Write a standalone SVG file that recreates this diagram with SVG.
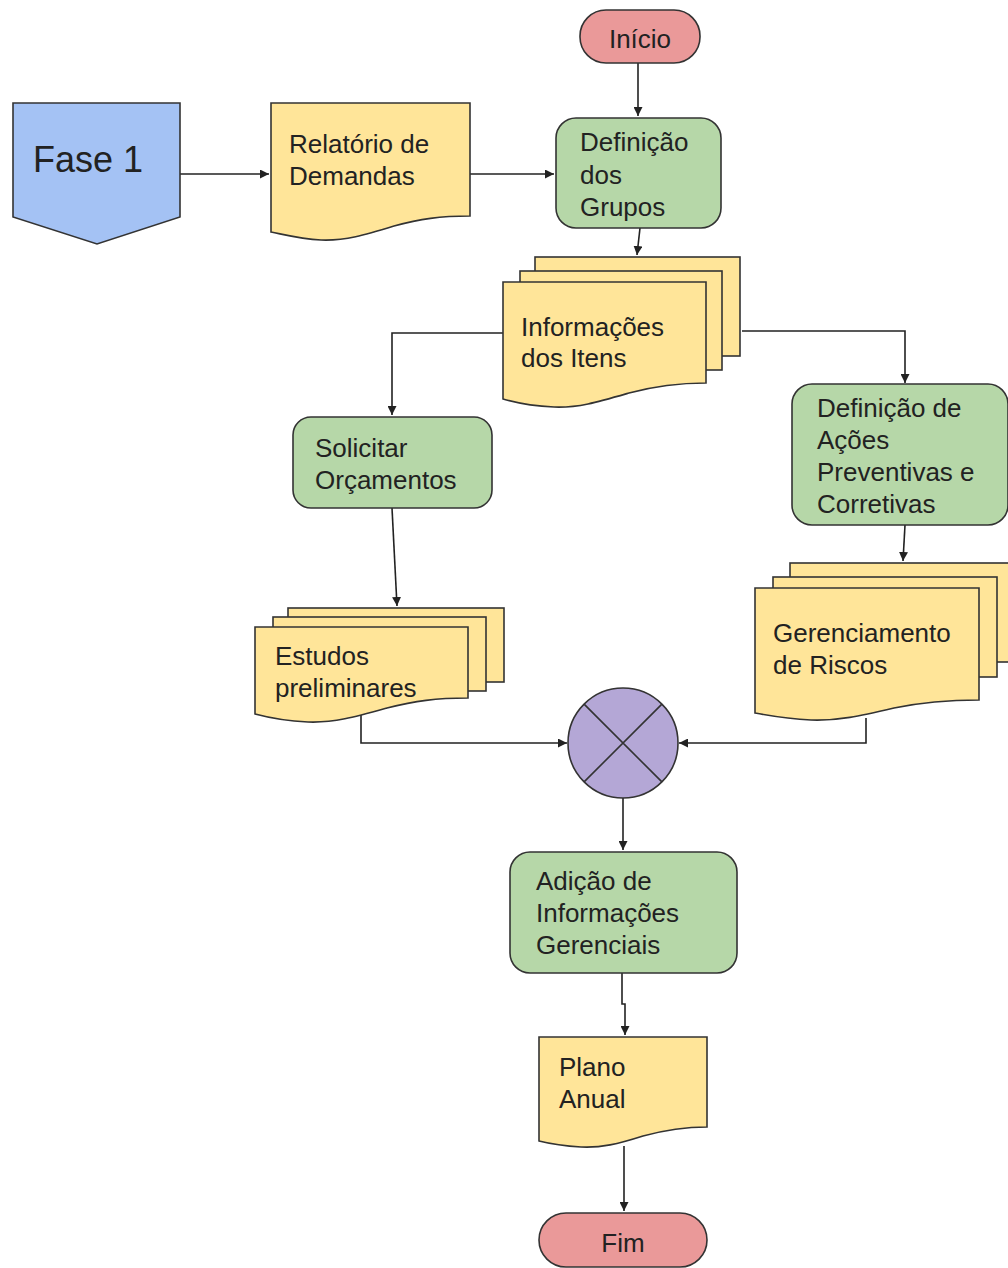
<svg xmlns="http://www.w3.org/2000/svg" width="1008" height="1268" viewBox="0 0 1008 1268">
  <defs>
    <marker id="arrow" viewBox="0 0 10 10" refX="10" refY="5" markerUnits="userSpaceOnUse" markerWidth="9" markerHeight="9" orient="auto">
      <path d="M0,0 L10,5 L0,10 Z" fill="#222"/>
    </marker>
    <style>
      .doc { fill: #ffe599; stroke: #333; stroke-width: 1.6; }
      .proc { fill: #b6d7a8; stroke: #333; stroke-width: 1.6; }
      .term { fill: #ea9999; stroke: #333; stroke-width: 1.6; }
      .page { fill: #a4c2f4; stroke: #333; stroke-width: 1.6; }
      .sum { fill: #b4a7d6; stroke: #333; stroke-width: 1.6; }
      .edge { fill: none; stroke: #222; stroke-width: 1.6; marker-end: url(#arrow); }
      text { font-family: "Liberation Sans", Arial, sans-serif; font-size: 26px; fill: #222; }
      .mid { text-anchor: middle; }
    </style>
  </defs>
  <rect width="1008" height="1268" fill="#ffffff"/>

  <g id="connectors">
    <path class="edge" d="M180,174 H269"/>
    <path class="edge" d="M470,174 H554"/>
    <path class="edge" d="M638,63 V116"/>
    <path class="edge" d="M640,228 L637,255"/>
    <path class="edge" d="M503,333 H392 V415"/>
    <path class="edge" d="M742,331 H905 V383"/>
    <path class="edge" d="M392,508 L397,606"/>
    <path class="edge" d="M905,525 L903,561"/>
    <path class="edge" d="M361,714 V743 H567"/>
    <path class="edge" d="M866,718 V743 H679"/>
    <path class="edge" d="M623,798 V850"/>
    <path class="edge" d="M622,973 V1004 H625 V1035"/>
    <path class="edge" d="M624,1146 V1211"/>
  </g>

  <g id="inicio">
    <rect class="term" x="580" y="10" width="120" height="53" rx="26"/>
    <text class="mid" x="640" y="48">Início</text>
  </g>

  <g id="fase1">
    <path class="page" d="M13,103 H180 V217 L97,244 L13,217 Z"/>
    <text x="33" y="172" style="font-size:36px">Fase 1</text>
  </g>

  <g id="relatorio">
    <path class="doc" d="M271,103 H470 V216 C440,216 420,219 394,226 C365,235 345,241 321,240 C301,239 286,235 271,232 Z"/>
    <text x="289" y="153">Relatório de</text>
    <text x="289" y="185">Demandas</text>
  </g>

  <g id="definicao-grupos">
    <rect class="proc" x="556" y="118" width="165" height="110" rx="20"/>
    <text x="580" y="151">Definição</text>
    <text x="580" y="184">dos</text>
    <text x="580" y="216">Grupos</text>
  </g>

  <g id="informacoes-itens">
    <rect class="doc" x="535" y="257" width="205" height="99"/>
    <rect class="doc" x="520" y="271" width="202" height="99"/>
    <path class="doc" d="M503,282 H706 V383 C676,383 655,386 629,393 C598,402 578,408 554,407 C533,406 517,403 503,399 Z"/>
    <text x="521" y="336">Informações</text>
    <text x="521" y="367">dos Itens</text>
  </g>

  <g id="solicitar-orcamentos">
    <rect class="proc" x="293" y="417" width="199" height="91" rx="18"/>
    <text x="315" y="457">Solicitar</text>
    <text x="315" y="489">Orçamentos</text>
  </g>

  <g id="definicao-acoes">
    <rect class="proc" x="792" y="384" width="216" height="141" rx="20"/>
    <text x="817" y="417">Definição de</text>
    <text x="817" y="449">Ações</text>
    <text x="817" y="481">Preventivas e</text>
    <text x="817" y="513">Corretivas</text>
  </g>

  <g id="estudos-preliminares">
    <rect class="doc" x="288" y="608" width="216" height="74"/>
    <rect class="doc" x="273" y="617" width="213" height="74"/>
    <path class="doc" d="M255,627 H468 V698 C436,698 415,701 387,708 C355,717 334,723 308,722 C287,721 270,718 255,714 Z"/>
    <text x="275" y="665">Estudos</text>
    <text x="275" y="697">preliminares</text>
  </g>

  <g id="gerenciamento-riscos">
    <rect class="doc" x="790" y="563" width="230" height="99"/>
    <rect class="doc" x="773" y="577" width="224" height="100"/>
    <path class="doc" d="M755,588 H979 V700 C945,700 923,702 894,708 C860,716 838,721 811,720 C789,719 771,716 755,713 Z"/>
    <text x="773" y="642">Gerenciamento</text>
    <text x="773" y="674">de Riscos</text>
  </g>

  <g id="juncao">
    <circle class="sum" cx="623" cy="743" r="55"/>
    <path d="M584.1,704.1 L661.9,781.9 M661.9,704.1 L584.1,781.9" stroke="#333" stroke-width="1.6" fill="none"/>
  </g>

  <g id="adicao-informacoes">
    <rect class="proc" x="510" y="852" width="227" height="121" rx="20"/>
    <text x="536" y="890">Adição de</text>
    <text x="536" y="922">Informações</text>
    <text x="536" y="954">Gerenciais</text>
  </g>

  <g id="plano-anual">
    <path class="doc" d="M539,1037 H707 V1127 C682,1127 665,1130 643,1136 C618,1144 601,1148 581,1147 C564,1146 551,1144 539,1141 Z"/>
    <text x="559" y="1076">Plano</text>
    <text x="559" y="1108">Anual</text>
  </g>

  <g id="fim">
    <rect class="term" x="539" y="1213" width="168" height="54" rx="27"/>
    <text class="mid" x="623" y="1252">Fim</text>
  </g>
</svg>
